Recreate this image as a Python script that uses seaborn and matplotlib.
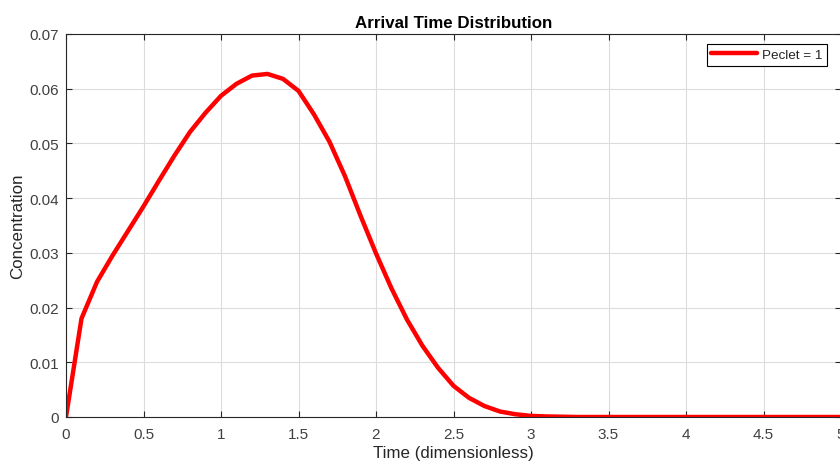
import numpy as np
import pandas as pd
import matplotlib
matplotlib.use("Agg")
import matplotlib.pyplot as plt
import seaborn as sns

time = [0.0, 0.1, 0.2, 0.3, 0.4, 0.5, 0.6, 0.7, 0.8, 0.9, 1.0,
        1.1, 1.2, 1.3, 1.4, 1.5, 1.6, 1.7, 1.8, 1.9, 2.0,
        2.1, 2.2, 2.3, 2.4, 2.5, 2.6, 2.7, 2.8, 2.9, 3.0,
        3.1, 3.2, 3.3, 3.4, 3.5, 3.6, 3.7, 3.8, 3.9, 4.0,
        4.1, 4.2, 4.3, 4.4, 4.5, 4.6, 4.7, 4.8, 4.9, 5.0]
concentration = [0.0, 0.0180, 0.0247, 0.0295, 0.0340, 0.0385, 0.0432, 0.0478, 0.0521, 0.0556, 0.0587,
                 0.0609, 0.0624, 0.0627, 0.0618, 0.0596, 0.0553, 0.0503, 0.0440, 0.0368, 0.0299,
                 0.0235, 0.0178, 0.0130, 0.0090, 0.0057, 0.0035, 0.0020, 0.0010, 0.0005, 0.0002,
                 0.0001, 0.00005, 0.0, 0.0, 0.0, 0.0, 0.0, 0.0, 0.0, 0.0,
                 0.0, 0.0, 0.0, 0.0, 0.0, 0.0, 0.0, 0.0, 0.0, 0.0]
series_name = "Peclet = 1"
xticks = [0, 0.5, 1, 1.5, 2, 2.5, 3, 3.5, 4, 4.5, 5]
xticklabels = ["0", "0.5", "1", "1.5", "2", "2.5", "3", "3.5", "4", "4.5", "5"]
yticks = [0, 0.01, 0.02, 0.03, 0.04, 0.05, 0.06, 0.07]
yticklabels = ["0", "0.01", "0.02", "0.03", "0.04", "0.05", "0.06", "0.07"]

df = pd.DataFrame({"Time": time, "Concentration": concentration, "Series": series_name})

sns.set_theme(style="whitegrid")
plt.rcParams['font.family'] = ['Liberation Sans', 'DejaVu Sans']

fig = plt.figure(figsize=(8.4, 4.64), dpi=100)
ax = fig.add_axes([66/840, 1-418/464, (841-66)/840, (418-35)/464])

sns.lineplot(data=df, x="Time", y="Concentration", hue="Series",
             palette={series_name: "#ff0000"}, linewidth=3.2, ax=ax)

ax.set_xlim(0, 5)
ax.set_ylim(0, 0.07)
ax.set_xticks(xticks)
ax.set_xticklabels(xticklabels)
ax.set_yticks(yticks)
ax.set_yticklabels(yticklabels)
ax.grid(True, color="#dcdcdc", linewidth=0.8)
ax.set_axisbelow(True)
for s in ax.spines.values():
    s.set_visible(True)
    s.set_color("#262626")
    s.set_linewidth(0.8)
ax.tick_params(axis="both", direction="in", length=4, width=0.8, color="#262626",
               labelsize=11, labelcolor="#404040", top=True, right=True,
               bottom=True, left=True, pad=5)
ax.tick_params(axis="x", pad=7)
ax.set_xlabel("Time (dimensionless)", fontsize=12.2, color="#262626", labelpad=3)
ax.set_ylabel("Concentration", fontsize=12.2, color="#262626", labelpad=3)
ax.set_title("Arrival Time Distribution", fontsize=12.2, fontweight="bold", color="black", pad=5)

leg = ax.legend(loc="upper right", bbox_to_anchor=((827-66)/775, 1 - 10/383),
                fontsize=9.7, frameon=True, fancybox=False, handlelength=3.4,
                borderpad=0.35, handletextpad=0.35, borderaxespad=0)
leg.get_frame().set_edgecolor("black")
leg.get_frame().set_linewidth(0.8)
leg.get_frame().set_alpha(1)

fig.savefig("out.png", dpi=100)
